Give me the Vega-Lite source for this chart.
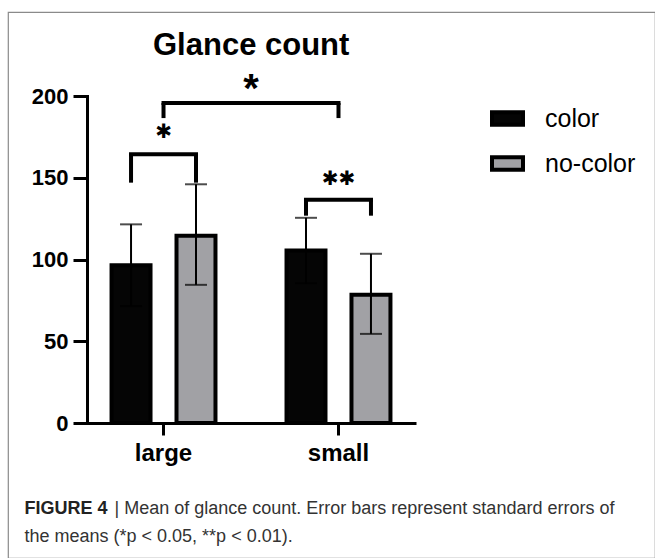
{
  "$schema": "https://vega.github.io/schema/vega-lite/v6.json",
  "width": 647,
  "height": 546,
  "autosize": {"type": "none"},
  "padding": {"left": 8, "top": 12, "right": 0, "bottom": 0},
  "background": "white",
  "config": {
    "view": {"stroke": "#8a8a8a", "strokeWidth": 1.2},
    "font": "Liberation Sans",
    "axis": {"grid": false, "domainColor": "black", "tickColor": "black", "labelColor": "black"}
  },
  "title": {
    "text": "Glance count",
    "font": "Liberation Sans",
    "fontSize": 31,
    "fontWeight": "bold",
    "color": "black",
    "anchor": "start",
    "frame": "group",
    "dx": 145,
    "offset": -74,
    "baseline": "alphabetic"
  },
  "datasets": {
    "bars": [
      {"size": "large", "group": "color", "mean": 96.5, "lo": 71.5, "hi": 121.5},
      {"size": "large", "group": "no-color", "mean": 114.5, "lo": 84.5, "hi": 146},
      {"size": "small", "group": "color", "mean": 105.5, "lo": 85.5, "hi": 125.5},
      {"size": "small", "group": "no-color", "mean": 78.5, "lo": 54.5, "hi": 103.5}
    ],
    "pairlegs": [
      {"size": "large", "group": "color", "top": 164.4, "bottom": 147},
      {"size": "large", "group": "no-color", "top": 164.4, "bottom": 147},
      {"size": "small", "group": "color", "top": 136.5, "bottom": 126.8},
      {"size": "small", "group": "no-color", "top": 136.5, "bottom": 126.8}
    ],
    "pairs": [
      {"size": "large", "top": 164.4, "star": 178, "label": "✱"},
      {"size": "small", "top": 136.5, "star": 149.5, "label": "✱✱"}
    ],
    "across": [
      {"size": "large", "size2": "small", "top": 195.7, "star": 208.9, "label": "*"}
    ],
    "acrosslegs": [
      {"size": "large", "top": 195.7, "bottom": 186.5},
      {"size": "small", "top": 195.7, "bottom": 186.5}
    ]
  },
  "layer": [
    {
      "data": {"name": "bars"},
      "mark": {"type": "bar", "stroke": "black", "strokeWidth": 4},
      "encoding": {
        "x": {
          "field": "size", "type": "nominal",
          "scale": {"domain": ["large", "small"], "range": [78, 408], "paddingInner": 0.406, "paddingOuter": 0.146},
          "axis": {
            "title": ["\u200b\u00a0\u00a0\u00a0\u00a0\u00a0\u00a0\u00a0\u00a0\u00a0\u00a0\u00a0\u00a0\u00a0\u00a0\u00a0\u00a0\u00a0\u00a0|  Mean of glance count. Error bars represent standard errors of", "the means (*p < 0.05, **p < 0.01)."],
            "titleX": 16, "titleY": 90, "titleAlign": "left", "titleBaseline": "alphabetic",
            "titleFont": "Liberation Sans", "titleFontSize": 18, "titleFontWeight": "normal",
            "titleColor": "#333333", "titleLineHeight": 28,
            "offset": -135, "labelAngle": 0,
            "labelFont": "Liberation Sans", "labelFontSize": 24, "labelFontWeight": "bold",
            "labelPadding": 6, "tickSize": 12, "tickWidth": 3, "domainWidth": 3
          }
        },
        "xOffset": {"field": "group", "type": "nominal", "scale": {"domain": ["color", "no-color"], "paddingInner": 0.4, "paddingOuter": 0}},
        "y": {
          "field": "mean", "type": "quantitative",
          "scale": {"domain": [0, 200], "range": [411, 84], "nice": false, "zero": false},
          "axis": {
            "title": "FIGURE 4", "titleAngle": 0, "titleX": -63, "titleY": 501,
            "titleAlign": "left", "titleBaseline": "alphabetic",
            "titleFont": "Liberation Sans", "titleFontSize": 18, "titleFontWeight": "bold", "titleColor": "#222222",
            "offset": -79, "values": [0, 50, 100, 150, 200],
            "labelFont": "Liberation Sans", "labelFontSize": 22, "labelFontWeight": "bold",
            "labelPadding": 5, "tickSize": 14, "tickWidth": 3, "domainWidth": 3, "domainCap": "square"
          }
        },
        "fill": {
          "field": "group", "type": "nominal",
          "scale": {"domain": ["color", "no-color"], "range": ["#050505", "#a1a1a5"]},
          "legend": {
            "orient": "none", "legendX": 482, "legendY": 89, "title": null,
            "symbolType": "M-1,-0.4L1,-0.4L1,0.4L-1,0.4Z", "symbolSize": 961,
            "symbolStrokeColor": "black", "symbolStrokeWidth": 4,
            "labelFont": "Liberation Sans", "labelFontSize": 25, "labelColor": "black",
            "labelOffset": 20, "rowPadding": 13, "padding": 0
          }
        }
      }
    },
    {
      "data": {"name": "bars"},
      "mark": {"type": "rule", "color": "black", "strokeWidth": 2},
      "encoding": {
        "x": {"field": "size", "type": "nominal"},
        "xOffset": {"field": "group", "type": "nominal"},
        "y": {"field": "lo", "type": "quantitative"},
        "y2": {"field": "hi"}
      }
    },
    {
      "data": {"name": "bars"},
      "mark": {"type": "tick", "color": "black", "size": 22, "thickness": 2},
      "encoding": {
        "x": {"field": "size", "type": "nominal"},
        "xOffset": {"field": "group", "type": "nominal"},
        "y": {"field": "hi", "type": "quantitative"}
      }
    },
    {
      "data": {"name": "bars"},
      "mark": {"type": "tick", "color": "black", "size": 22, "thickness": 2},
      "encoding": {
        "x": {"field": "size", "type": "nominal"},
        "xOffset": {"field": "group", "type": "nominal"},
        "y": {"field": "lo", "type": "quantitative"}
      }
    },
    {
      "data": {"name": "pairlegs"},
      "mark": {"type": "rule", "color": "black", "strokeWidth": 4},
      "encoding": {
        "x": {"field": "size", "type": "nominal"},
        "xOffset": {"field": "group", "type": "nominal"},
        "y": {"field": "bottom", "type": "quantitative"},
        "y2": {"field": "top"}
      }
    },
    {
      "data": {"name": "pairs"},
      "mark": {"type": "tick", "color": "black", "size": 69, "thickness": 4, "opacity": 1},
      "encoding": {
        "x": {"field": "size", "type": "nominal"},
        "y": {"field": "top", "type": "quantitative"}
      }
    },
    {
      "data": {"name": "pairs"},
      "mark": {"type": "text", "font": "DejaVu Sans", "fontSize": 20, "baseline": "middle", "color": "black"},
      "encoding": {
        "x": {"field": "size", "type": "nominal"},
        "y": {"field": "star", "type": "quantitative"},
        "text": {"field": "label"}
      }
    },
    {
      "data": {"name": "acrosslegs"},
      "mark": {"type": "rule", "color": "black", "strokeWidth": 4},
      "encoding": {
        "x": {"field": "size", "type": "nominal"},
        "y": {"field": "bottom", "type": "quantitative"},
        "y2": {"field": "top"}
      }
    },
    {
      "data": {"name": "across"},
      "mark": {"type": "rule", "color": "black", "strokeWidth": 4, "strokeCap": "square"},
      "encoding": {
        "x": {"field": "size", "type": "nominal"},
        "x2": {"field": "size2"},
        "y": {"field": "top", "type": "quantitative"}
      }
    },
    {
      "data": {"name": "across"},
      "mark": {"type": "text", "font": "Liberation Sans", "fontWeight": "bold", "fontSize": 40, "baseline": "middle", "dx": 87.5, "dy": 9, "color": "black"},
      "encoding": {
        "x": {"field": "size", "type": "nominal"},
        "y": {"field": "star", "type": "quantitative"},
        "text": {"field": "label"}
      }
    }
  ]
}
